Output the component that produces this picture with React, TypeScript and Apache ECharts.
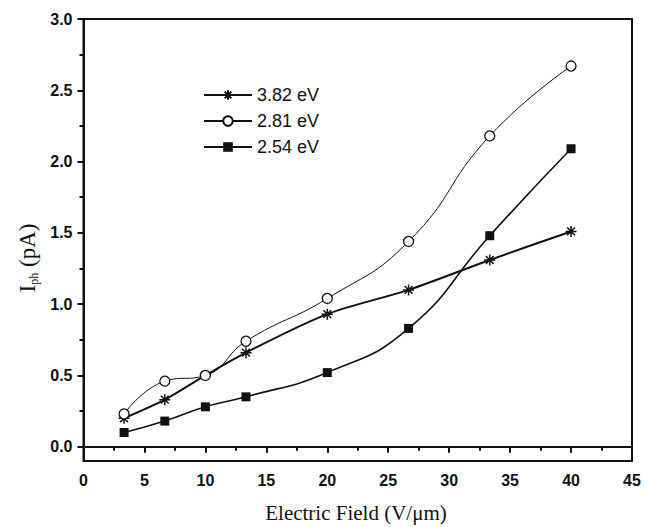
import React, { useEffect, useRef } from "react";
import * as echarts from "echarts";

const fieldValues = [3.33, 6.67, 10, 13.33, 20, 26.67, 33.33, 40];
const series382 = [0.2, 0.33, 0.5, 0.66, 0.93, 1.1, 1.31, 1.51];
const series281 = [0.23, 0.46, 0.5, 0.74, 1.04, 1.44, 2.18, 2.67];
const series254 = [0.1, 0.18, 0.28, 0.35, 0.52, 0.83, 1.48, 2.09];
const seriesNames = ["3.82 eV", "2.81 eV", "2.54 eV"];
const yMajorTicks = [0, 0.5, 1.0, 1.5, 2.0, 2.5, 3.0];
const yMinorTicks = [0.25, 0.75, 1.25, 1.75, 2.25, 2.75];

const STAR =
  "path://M0,-10 L0,10 M-10,0 L10,0 M-7.07,-7.07 L7.07,7.07 M-7.07,7.07 L7.07,-7.07";

const pair = (ys: number[]) => fieldValues.map((x, i) => [x, ys[i]]);

export default function App() {
  const ref = useRef<HTMLDivElement>(null);
  useEffect(() => {
    document.body.style.margin = "0";
    const chart = echarts.init(ref.current!, null, { renderer: "svg" });
    const labelFont = {
      color: "#111",
      fontFamily: "Liberation Sans, Arial, sans-serif",
      fontSize: 16,
      fontWeight: "bold" as const,
    };
    chart.setOption({
      animation: false,
      backgroundColor: "#ffffff",
      grid: {
        left: 83.5,
        right: 18,
        top: 19,
        bottom: 66,
        show: true,
        borderColor: "#111",
        borderWidth: 2,
        backgroundColor: "transparent",
      },
      legend: {
        orient: "vertical",
        left: 198,
        top: 81,
        itemWidth: 48,
        itemHeight: 12,
        itemGap: 8,
        textStyle: {
          color: "#111",
          fontFamily: "Liberation Sans, Arial, sans-serif",
          fontSize: 18,
          lineHeight: 18,
        },
        data: seriesNames,
      },
      xAxis: {
        type: "value",
        min: 0,
        max: 45,
        interval: 5,
        axisLine: { lineStyle: { color: "#111", width: 2 } },
        axisTick: { length: 6, lineStyle: { color: "#111", width: 2 } },
        minorTick: { show: true, splitNumber: 2, length: 4, lineStyle: { color: "#111", width: 2 } },
        splitLine: { show: false },
        axisLabel: { ...labelFont, margin: 11 },
      },
      yAxis: [
        {
          type: "value",
          min: -0.1,
          max: 3,
          position: "left",
          axisLine: { show: true, lineStyle: { color: "#111", width: 2 } },
          axisTick: {
            show: true,
            length: 6,
            customValues: yMajorTicks,
            lineStyle: { color: "#111", width: 2 },
          },
          splitLine: { show: false },
          axisLabel: {
            ...labelFont,
            margin: 11,
            customValues: yMajorTicks,
            formatter: (v: number) => v.toFixed(1),
          },
        },
        {
          type: "value",
          min: -0.1,
          max: 3,
          position: "left",
          axisLine: { show: false },
          axisTick: {
            show: true,
            length: 4,
            customValues: yMinorTicks,
            lineStyle: { color: "#111", width: 2 },
          },
          splitLine: { show: false },
          axisLabel: { show: false },
        },
      ],
      graphic: [
        {
          type: "text",
          x: 356,
          y: 513,
          style: {
            text: "Electric Field (V/μm)",
            font: "21px 'Liberation Serif', 'Times New Roman', serif",
            fill: "#111",
            textAlign: "center",
            textVerticalAlign: "middle",
          },
        },
        {
          type: "text",
          x: 27,
          y: 258,
          rotation: Math.PI / 2,
          style: {
            text: "{a|I}{b|ph}{a| (pA)}",
            fill: "#111",
            textAlign: "center",
            textVerticalAlign: "middle",
            rich: {
              a: { fontFamily: "Liberation Serif, serif", fontSize: 23, fill: "#111" },
              b: {
                fontFamily: "Liberation Serif, serif",
                fontSize: 12,
                fill: "#111",
                padding: [13, 0, 0, 0],
              },
            },
          },
        },
      ],
      series: [
        {
          name: seriesNames[0],
          type: "line",
          data: pair(series382),
          smooth: 0.3,
          symbol: STAR,
          symbolSize: 11,
          lineStyle: { color: "#111", width: 2 },
          itemStyle: { color: "transparent", borderColor: "#111", borderWidth: 1.5 },
          z: 3,
        },
        {
          name: seriesNames[1],
          type: "line",
          data: pair(series281),
          smooth: 0.5,
          symbol: "circle",
          symbolSize: 10,
          lineStyle: { color: "#111", width: 1 },
          itemStyle: { color: "#ffffff", borderColor: "#111", borderWidth: 1.3 },
          z: 4,
        },
        {
          name: seriesNames[2],
          type: "line",
          data: pair(series254),
          smooth: 0.5,
          symbol: "rect",
          symbolSize: 9,
          lineStyle: { color: "#111", width: 1.6 },
          itemStyle: { color: "#111", borderColor: "#111", borderWidth: 0 },
          z: 2,
        },
      ],
    });
    return () => chart.dispose();
  }, []);
  return <div ref={ref} style={{ width: 650, height: 527 }} />;
}
